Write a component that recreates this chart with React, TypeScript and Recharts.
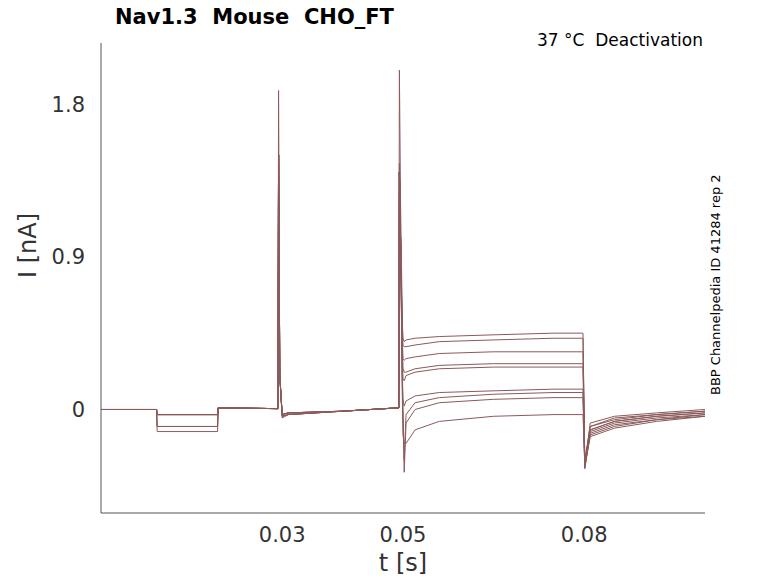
import React from "react";
import { LineChart, Line, XAxis, YAxis } from "recharts";

const times = [0, 0.0092, 0.0093, 0.0193, 0.0194, 0.0293, 0.0294, 0.0296, 0.03, 0.031, 0.04, 0.0493, 0.0494, 0.0496, 0.0499, 0.05, 0.0502, 0.0505, 0.052, 0.056, 0.065, 0.075, 0.0797, 0.0798, 0.0801, 0.081, 0.085, 0.092, 0.1];

const traces: number[][] = [
  [0, 0, -0.03, -0.03, 0.01, 0.005, 1.88, 0.2, -0.03, -0.02, -0.01, 0.01, 2.0, 1.2, 0.5, 0.42, 0.4, 0.41, 0.42, 0.43, 0.44, 0.45, 0.45, 0.45, -0.33, -0.08, -0.04, -0.02, 0.0],
  [0, 0, -0.03, -0.03, 0.01, 0.005, 1.5, 0.2, -0.05, -0.03, -0.01, 0.01, 1.45, 1.0, 0.45, 0.38, 0.37, 0.37, 0.38, 0.4, 0.41, 0.42, 0.42, 0.42, -0.32, -0.1, -0.06, -0.03, -0.01],
  [0, 0, -0.03, -0.03, 0.01, 0.005, 1.5, 0.2, -0.03, -0.02, -0.01, 0.01, 1.4, 1.0, 0.4, 0.3, 0.29, 0.3, 0.31, 0.33, 0.34, 0.34, 0.34, 0.34, -0.3, -0.1, -0.05, -0.03, -0.01],
  [0, 0, -0.1, -0.1, 0.01, 0.005, 1.5, 0.2, -0.03, -0.02, -0.01, 0.01, 1.4, 1.0, 0.35, 0.24, 0.22, 0.22, 0.24, 0.26, 0.27, 0.27, 0.27, 0.27, -0.31, -0.12, -0.07, -0.04, -0.02],
  [0, 0, -0.03, -0.03, 0.01, 0.005, 1.5, 0.2, -0.04, -0.03, -0.01, 0.01, 1.4, 1.0, 0.3, 0.18, 0.17, 0.2, 0.22, 0.24, 0.25, 0.25, 0.25, 0.25, -0.34, -0.12, -0.07, -0.04, -0.02],
  [0, 0, -0.13, -0.13, 0.01, 0.005, 1.5, 0.2, -0.03, -0.02, -0.01, 0.01, 1.4, 1.0, 0.2, 0.06, 0.02, 0.05, 0.08, 0.1, 0.11, 0.12, 0.12, 0.12, -0.33, -0.13, -0.08, -0.05, -0.03],
  [0, 0, -0.03, -0.03, 0.01, 0.005, 1.5, 0.2, -0.04, -0.03, -0.01, 0.01, 1.4, 1.0, 0.15, 0.0, -0.3, -0.03, 0.04, 0.07, 0.09, 0.1, 0.1, 0.1, -0.35, -0.14, -0.09, -0.06, -0.03],
  [0, 0, -0.03, -0.03, 0.01, 0.005, 1.5, 0.2, -0.03, -0.02, -0.01, 0.01, 1.4, 1.0, 0.1, -0.05, -0.37, -0.08, 0.0, 0.04, 0.06, 0.07, 0.07, 0.07, -0.34, -0.15, -0.1, -0.06, -0.04],
  [0, 0, -0.1, -0.1, 0.01, 0.005, 1.5, 0.2, -0.04, -0.03, -0.01, 0.01, 1.4, 1.0, 0.05, -0.15, -0.2, -0.2, -0.12, -0.07, -0.04, -0.03, -0.03, -0.03, -0.33, -0.16, -0.11, -0.07, -0.04],
];

const xTicks = [0.03, 0.05, 0.08];
const yTicks = [0, 0.9, 1.8];

const rows = times.map((t, i) => {
  const r: Record<string, number> = { t };
  traces.forEach((tr, k) => (r["v" + k] = tr[i]));
  return r;
});

const color = "#8b5a5a";
const font = "DejaVu Sans, sans-serif";

export default function App() {
  return (
    <div style={{ position: "absolute", left: 0, top: 0, width: 778, height: 583, background: "#fff", fontFamily: font }}>
      <LineChart width={778} height={583} data={rows} margin={{ top: 43, right: 73, bottom: 40, left: 41 }}>
        <XAxis dataKey="t" type="number" domain={[0, 0.1]} ticks={xTicks} height={30} stroke="#555"
          tick={{ fontSize: 21, fill: "#333", fontFamily: font, dy: 6 }} tickLine={false} tickFormatter={(v) => String(v)}
          label={{ value: "t [s]", position: "insideBottom", offset: -28, fontSize: 24, fill: "#333", fontFamily: font }} />
        <YAxis type="number" domain={[-0.61, 2.16]} ticks={yTicks} width={60} stroke="#555"
          tick={{ fontSize: 21, fill: "#333", fontFamily: font, dx: -8 }} tickLine={false} tickFormatter={(v) => String(v)}
          label={{ value: "I [nA]", angle: -90, position: "insideLeft", offset: -14, fontSize: 24, fill: "#333", fontFamily: font }} />
        {traces.map((_, k) => (
          <Line key={k} dataKey={"v" + k} stroke={color} strokeWidth={1} dot={false} isAnimationActive={false} type="linear" />
        ))}
      </LineChart>
      <div style={{ position: "absolute", left: 115, top: 5, fontSize: 21, fontWeight: "bold", color: "#000" }}>Nav1.3&nbsp; Mouse&nbsp; CHO_FT</div>
      <div style={{ position: "absolute", right: 75, top: 30, fontSize: 17, color: "#000" }}>37 °C&nbsp; Deactivation</div>
      <div style={{ position: "absolute", left: 708, top: 395, fontSize: 13, color: "#000", transform: "rotate(-90deg)", transformOrigin: "left top", whiteSpace: "nowrap" }}>BBP Channelpedia ID 41284 rep 2</div>
    </div>
  );
}
